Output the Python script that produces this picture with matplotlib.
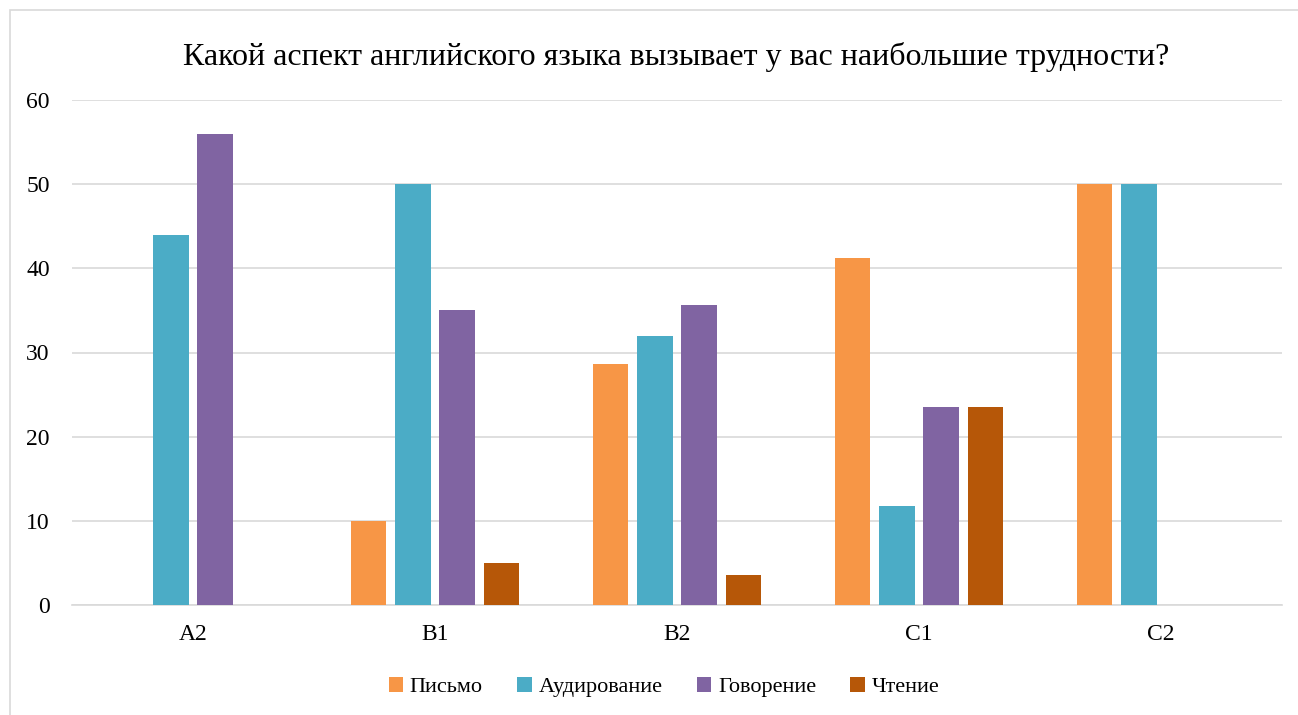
import numpy as np
import matplotlib.pyplot as plt
from matplotlib.patches import Rectangle

plt.rcParams['font.family'] = ['Liberation Serif', 'DejaVu Serif']

categories = ['A2', 'B1', 'B2', 'C1', 'C2']
series = ['Письмо', 'Аудирование', 'Говорение', 'Чтение']
pismo = [0, 10, 28.6, 41.2, 50]
audirovanie = [44, 50, 32, 11.8, 50]
govorenie = [56, 35, 35.7, 23.5, 0]
chtenie = [0, 5, 3.6, 23.5, 0]
colors = ['#F79646', '#4BACC6', '#8064A2', '#B65708']

fig = plt.figure(figsize=(12.98, 7.15), dpi=100)
# chart border
fig.patches.append(Rectangle((10 / 1298, -0.1), 1.2, (705 / 715) + 0.1,
                             transform=fig.transFigure, fill=False,
                             edgecolor='#D9D9D9', linewidth=1.2))

ax = fig.add_axes([72 / 1298, 1 - 605 / 715, (1282 - 72) / 1298, (605 - 100) / 715])

x = np.arange(len(categories))
w = 0.145
step = 0.182
for i, (vals, name) in enumerate(zip([pismo, audirovanie, govorenie, chtenie], series)):
    ax.bar(x + (i - 1.5) * step, vals, w, color=colors[i], label=name, zorder=3)

ax.set_xlim(-0.5, len(categories) - 0.5)
ax.set_ylim(0, 60)
ax.set_yticks(range(0, 61, 10))
ax.set_xticks(x)
ax.set_xticklabels(categories)
ax.grid(axis='y', color='#D9D9D9', linewidth=1.2, zorder=0)
for s in ['top', 'right', 'left']:
    ax.spines[s].set_visible(False)
ax.spines['bottom'].set_color('#D9D9D9')
ax.spines['bottom'].set_linewidth(1.2)
ax.tick_params(axis='both', length=0, labelsize=17, colors='black')
ax.tick_params(axis='y', pad=16)
ax.tick_params(axis='x', pad=14)

fig.text(676 / 1298, 1 - 57 / 715, 'Какой аспект английского языка вызывает у вас наибольшие трудности?',
         ha='center', va='center', fontsize=23)

fig.legend(loc='center', bbox_to_anchor=(664 / 1298, 1 - 687 / 715), ncol=4, frameon=False,
           fontsize=16, handlelength=0.65, handleheight=0.65, handletextpad=0.3,
           columnspacing=1.55)

fig.savefig('out.png', dpi=100)
